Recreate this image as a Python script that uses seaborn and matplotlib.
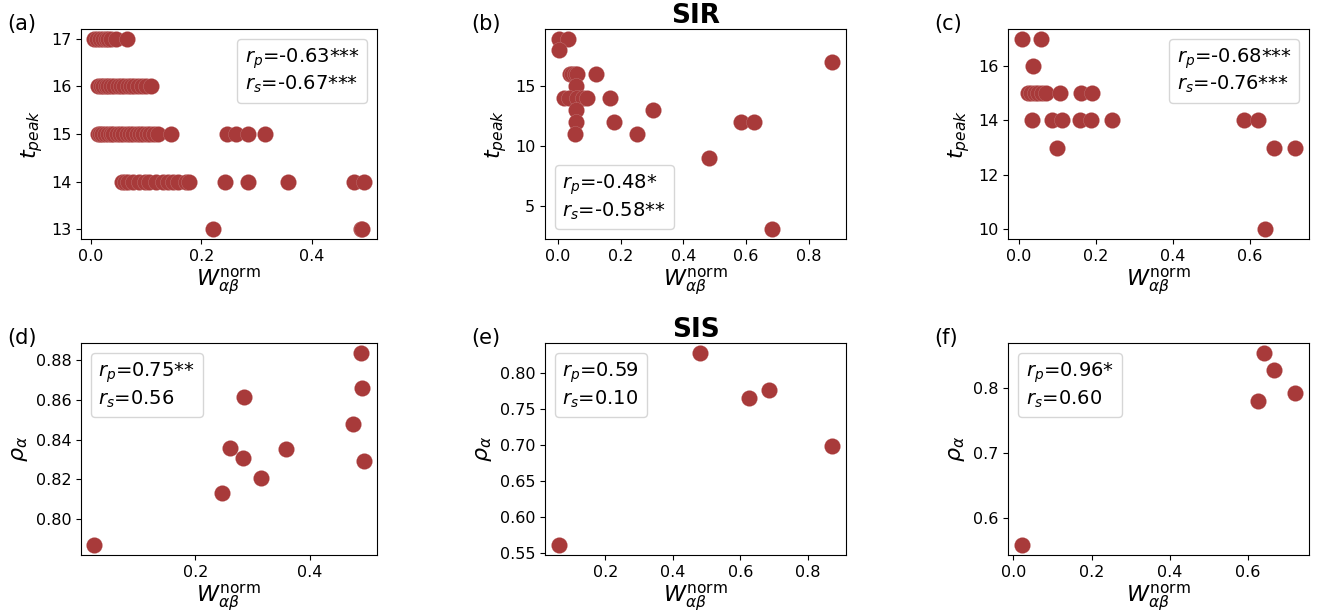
import matplotlib
matplotlib.use("Agg")
import matplotlib.pyplot as plt
from matplotlib.lines import Line2D
import seaborn as sns

# ---- data -------------------------------------------------------------
# (a) SIR, t_peak vs normalised weight, grouped by peak time
a_x17 = [0.007, 0.012, 0.017, 0.022, 0.027, 0.031, 0.036, 0.046, 0.066]
a_x16 = [0.014, 0.018, 0.022, 0.027, 0.032, 0.037, 0.043, 0.049, 0.055,
         0.061, 0.067, 0.073, 0.079, 0.086, 0.093, 0.100, 0.109]
a_x15 = [0.013, 0.017, 0.021, 0.026, 0.031, 0.036, 0.041, 0.047, 0.053,
         0.059, 0.065, 0.071, 0.077, 0.083, 0.089, 0.095, 0.101, 0.107,
         0.114, 0.121, 0.145, 0.246, 0.262, 0.285, 0.315]
a_x14 = [0.057, 0.062, 0.068, 0.077, 0.088, 0.098, 0.105, 0.119, 0.130,
         0.140, 0.149, 0.157, 0.172, 0.177, 0.242, 0.285, 0.357, 0.475, 0.493]
a_x13 = [0.221, 0.488, 0.490]

# (b) SIR, second network
b_x = [0.002, 0.031, 0.004, 0.038, 0.046, 0.054, 0.062, 0.121, 0.058,
       0.020, 0.035, 0.060, 0.078, 0.092, 0.166, 0.058, 0.303, 0.058,
       0.177, 0.583, 0.625, 0.055, 0.253, 0.480, 0.683, 0.875]
b_y = [19, 19, 18, 16, 16, 16, 16, 16, 15,
       14, 14, 14, 14, 14, 14, 13, 13, 12,
       12, 12, 12, 11, 11, 9, 3, 17]

# (c) SIR, third network
c_x = [0.007, 0.058, 0.037,
       0.023, 0.032, 0.041, 0.050, 0.060, 0.069, 0.107, 0.161, 0.189,
       0.033, 0.087, 0.111, 0.158, 0.187, 0.241, 0.585, 0.622,
       0.098, 0.664, 0.719, 0.639]
c_y = [17, 17, 16,
       15, 15, 15, 15, 15, 15, 15, 15, 15,
       14, 14, 14, 14, 14, 14, 14, 14,
       13, 13, 13, 10]

# (d)-(f) SIS, rho_alpha vs normalised weight
d_x = [0.024, 0.247, 0.261, 0.283, 0.284, 0.314, 0.357, 0.475, 0.489, 0.490, 0.493]
d_y = [0.7866, 0.8129, 0.8357, 0.8306, 0.8617, 0.8208, 0.8352, 0.8479,
       0.8839, 0.8660, 0.8293]
e_x = [0.062, 0.481, 0.625, 0.686, 0.872]
e_y = [0.560, 0.828, 0.765, 0.776, 0.698]
f_x = [0.021, 0.625, 0.642, 0.666, 0.721]
f_y = [0.5575, 0.7808, 0.8547, 0.8284, 0.7927]

stats = {
    "a": ("-0.63***", "-0.67***"),
    "b": ("-0.48*", "-0.58**"),
    "c": ("-0.68***", "-0.76***"),
    "d": ("0.75**", "0.56"),
    "e": ("0.59", "0.10"),
    "f": ("0.96*", "0.60"),
}

xticks = {
    "a": [0.0, 0.2, 0.4], "b": [0.0, 0.2, 0.4, 0.6, 0.8], "c": [0.0, 0.2, 0.4, 0.6],
    "d": [0.2, 0.4], "e": [0.2, 0.4, 0.6, 0.8], "f": [0.0, 0.2, 0.4, 0.6],
}
yticks = {
    "a": [13, 14, 15, 16, 17], "b": [5, 10, 15], "c": [10, 12, 14, 16],
    "d": [0.80, 0.82, 0.84, 0.86, 0.88],
    "e": [0.55, 0.60, 0.65, 0.70, 0.75, 0.80],
    "f": [0.6, 0.7, 0.8],
}
titles = {"b": "SIR", "e": "SIS"}

# ---- assemble series --------------------------------------------------
a_x = a_x17 + a_x16 + a_x15 + a_x14 + a_x13
a_y = ([17] * len(a_x17) + [16] * len(a_x16) + [15] * len(a_x15)
       + [14] * len(a_x14) + [13] * len(a_x13))
series = {"a": (a_x, a_y), "b": (b_x, b_y), "c": (c_x, c_y),
          "d": (d_x, d_y), "e": (e_x, e_y), "f": (f_x, f_y)}

# ---- layout (pixel boxes: left, right, top, bottom) -------------------
W, H = 1331, 613
boxes = {
    "a": (81, 377, 29, 239), "b": (545, 846, 29, 239), "c": (1008, 1309, 29, 239),
    "d": (81, 377, 343, 555), "e": (545, 846, 343, 555), "f": (1008, 1309, 343, 555),
}
legend_loc = {"a": "upper right", "b": "lower left", "c": "upper right",
              "d": "upper left", "e": "upper left", "f": "upper left"}

color = "#a83a3a"
fig = plt.figure(figsize=(W / 100, H / 100), dpi=100)

for key, (l, r, t, b) in boxes.items():
    ax = fig.add_axes([l / W, 1 - b / H, (r - l) / W, (b - t) / H])
    x, y = series[key]
    sns.scatterplot(x=x, y=y, ax=ax, s=135, color=color, edgecolor="#f4e6e6",
                    linewidth=0.1, zorder=3)
    ax.set_xticks(xticks[key])
    ax.set_yticks(yticks[key])
    ax.tick_params(labelsize=11.5)
    ax.set_xlabel(r"$W_{\alpha\beta}^{\mathrm{norm}}$", fontsize=16, labelpad=2)
    if key in ("a", "b", "c"):
        ax.set_ylabel(r"$t_{peak}$", fontsize=16, labelpad=4)
    else:
        ax.set_ylabel(r"$\rho_{\alpha}$", fontsize=16, labelpad=4)
    if key in titles:
        ax.set_title(titles[key], fontsize=19, fontweight="bold", pad=4)
    rp, rs = stats[key]
    label = f"$r_p$={rp}\n$r_s$={rs}"
    handle = Line2D([], [], linestyle="none")
    ax.legend([handle], [label], loc=legend_loc[key], handlelength=0,
              handletextpad=0, fontsize=14, borderaxespad=0.5)
    fig.text((l - 74) / W, 1 - (t + 1) / H, f"({key})", fontsize=15,
             va="baseline", ha="left")

fig.savefig("out.png", dpi=100)
